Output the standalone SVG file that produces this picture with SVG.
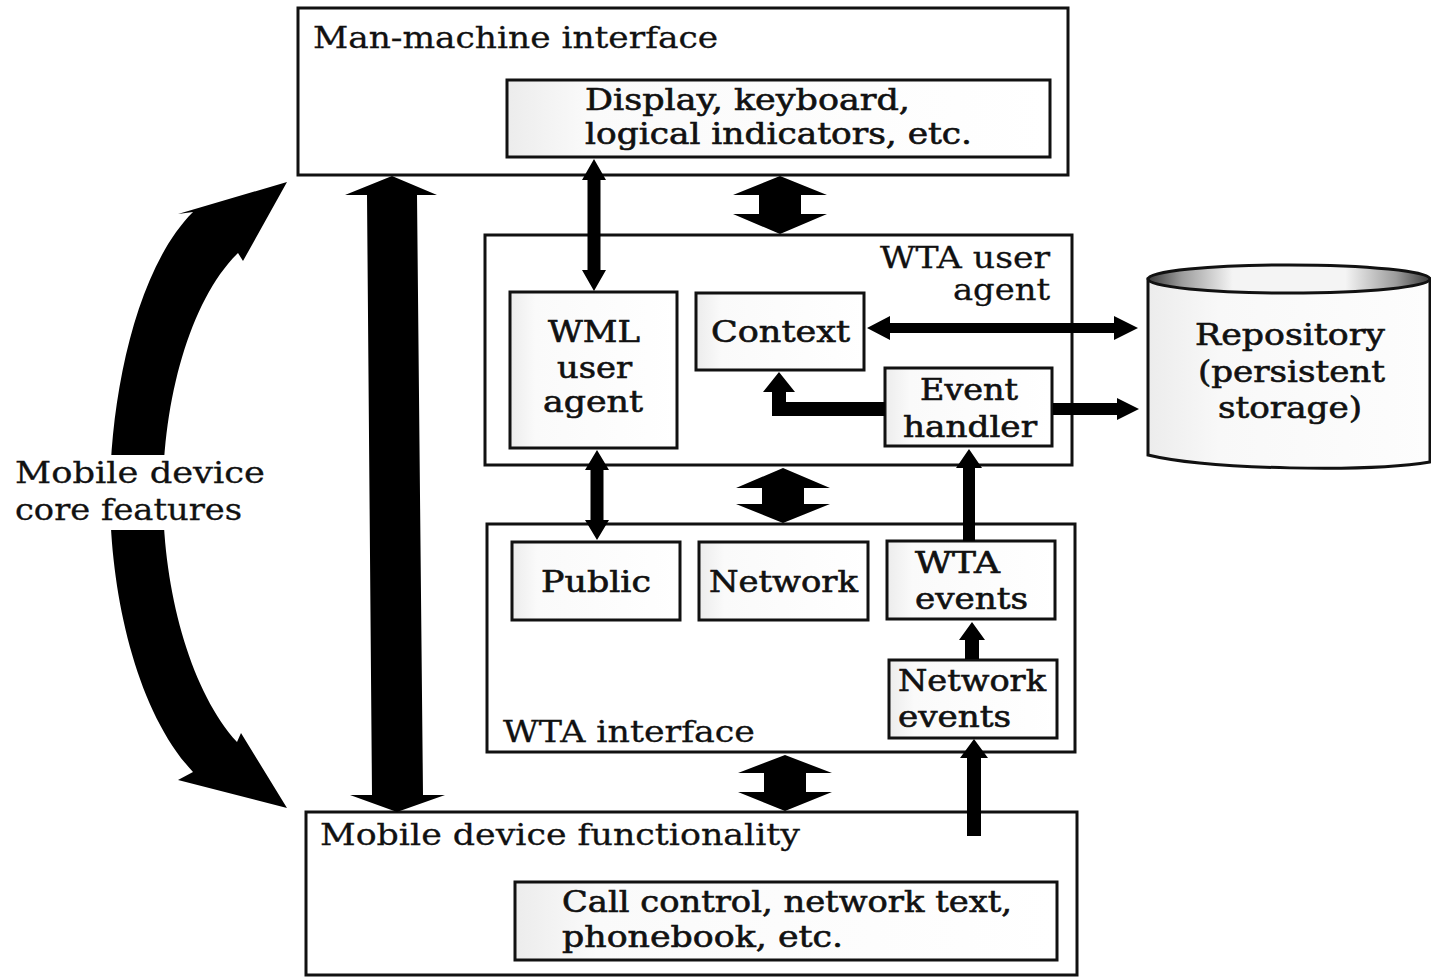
<svg xmlns="http://www.w3.org/2000/svg" width="1431" height="978" viewBox="0 0 1431 978">
<defs>
<style>
.box{fill:#fff;stroke:#111;stroke-width:3}
.inner{fill:url(#speck);stroke:#111;stroke-width:3}
.t{font-family:"DejaVu Serif","Liberation Serif",serif;font-size:29px;fill:#111;stroke:#111;stroke-width:0.3px}
.b{stroke-width:0.6px}
.arr{fill:#000}
</style>
<linearGradient id="speck" x1="0" y1="0" x2="1" y2="0">
<stop offset="0" stop-color="#ececec"/>
<stop offset="0.15" stop-color="#fafafa"/>
<stop offset="1" stop-color="#ffffff"/>
</linearGradient>
<linearGradient id="cyl" x1="0" y1="0" x2="1" y2="0">
<stop offset="0" stop-color="#ececec"/>
<stop offset="0.25" stop-color="#f8f8f8"/>
<stop offset="1" stop-color="#fdfdfd"/>
</linearGradient>
<linearGradient id="top" x1="0" y1="0" x2="1" y2="0">
<stop offset="0" stop-color="#3a3a3a"/>
<stop offset="0.12" stop-color="#9c9c9c"/>
<stop offset="0.3" stop-color="#f4f4f4"/>
<stop offset="0.7" stop-color="#f4f4f4"/>
<stop offset="0.88" stop-color="#9c9c9c"/>
<stop offset="1" stop-color="#3a3a3a"/>
</linearGradient>
</defs>
<rect width="1431" height="978" fill="#fff"/>

<g id="mmi">
<rect class="box" x="298" y="8" width="770" height="167"/>
<text class="t" x="313" y="48" textLength="405" lengthAdjust="spacingAndGlyphs">Man-machine interface</text>
</g>
<g id="display">
<rect class="inner" x="507" y="80" width="543" height="77"/>
<text class="t b" x="585" y="110" textLength="325" lengthAdjust="spacingAndGlyphs">Display, keyboard,</text>
<text class="t b" x="585" y="144" textLength="387" lengthAdjust="spacingAndGlyphs">logical indicators, etc.</text>
</g>
<g id="wta-user-agent">
<rect class="box" x="485" y="235" width="587" height="230"/>
<text class="t" x="880" y="268" textLength="170" lengthAdjust="spacingAndGlyphs">WTA user</text>
<text class="t" x="953" y="300" textLength="97" lengthAdjust="spacingAndGlyphs">agent</text>
</g>
<g id="wml">
<rect class="inner" x="510" y="292" width="167" height="156"/>
<text class="t b" x="548" y="342" textLength="92" lengthAdjust="spacingAndGlyphs">WML</text>
<text class="t b" x="557" y="378" textLength="75" lengthAdjust="spacingAndGlyphs">user</text>
<text class="t b" x="543" y="412" textLength="100" lengthAdjust="spacingAndGlyphs">agent</text>
</g>
<g id="context">
<rect class="inner" x="696" y="293" width="168" height="77"/>
<text class="t b" x="711" y="342" textLength="139" lengthAdjust="spacingAndGlyphs">Context</text>
</g>
<g id="event-handler">
<rect class="inner" x="885" y="368" width="167" height="78"/>
<text class="t b" x="920" y="400" textLength="98" lengthAdjust="spacingAndGlyphs">Event</text>
<text class="t b" x="903" y="437" textLength="134" lengthAdjust="spacingAndGlyphs">handler</text>
</g>
<g id="repository">
<path d="M1148,279 L1148,455 C1210,470 1370,472 1430,462 L1430,279 Z" fill="url(#cyl)" stroke="#111" stroke-width="3"/>
<ellipse cx="1289" cy="279" rx="141" ry="14" fill="url(#top)" stroke="#111" stroke-width="3"/>
<text class="t b" x="1195" y="345" textLength="190" lengthAdjust="spacingAndGlyphs">Repository</text>
<text class="t b" x="1198" y="382" textLength="187" lengthAdjust="spacingAndGlyphs">(persistent</text>
<text class="t b" x="1218" y="418" textLength="144" lengthAdjust="spacingAndGlyphs">storage)</text>
</g>
<g id="wta-interface">
<rect class="box" x="487" y="524" width="588" height="228"/>
<text class="t" x="503" y="742" textLength="252" lengthAdjust="spacingAndGlyphs">WTA interface</text>
</g>
<g id="public">
<rect class="inner" x="512" y="542" width="168" height="78"/>
<text class="t b" x="541" y="592" textLength="110" lengthAdjust="spacingAndGlyphs">Public</text>
</g>
<g id="network">
<rect class="inner" x="699" y="542" width="169" height="78"/>
<text class="t b" x="709" y="592" textLength="149" lengthAdjust="spacingAndGlyphs">Network</text>
</g>
<g id="wta-events">
<rect class="inner" x="887" y="541" width="168" height="78"/>
<text class="t b" x="915" y="573" textLength="85" lengthAdjust="spacingAndGlyphs">WTA</text>
<text class="t b" x="915" y="609" textLength="113" lengthAdjust="spacingAndGlyphs">events</text>
</g>
<g id="network-events">
<rect class="inner" x="889" y="660" width="168" height="78"/>
<text class="t b" x="898" y="691" textLength="148" lengthAdjust="spacingAndGlyphs">Network</text>
<text class="t b" x="898" y="727" textLength="113" lengthAdjust="spacingAndGlyphs">events</text>
</g>
<g id="mdf">
<rect class="box" x="306" y="812" width="771" height="163"/>
<text class="t" x="320" y="845" textLength="480" lengthAdjust="spacingAndGlyphs">Mobile device functionality</text>
</g>
<g id="call-control">
<rect class="inner" x="515" y="882" width="542" height="78"/>
<text class="t b" x="562" y="912" textLength="450" lengthAdjust="spacingAndGlyphs">Call control, network text,</text>
<text class="t b" x="562" y="947" textLength="281" lengthAdjust="spacingAndGlyphs">phonebook, etc.</text>
</g>

<g id="connectors" class="arr">
<polygon points="594,159 606,180 600.5,180 600.5,270 606,270 594,291 582,270 587.5,270 587.5,180 582,180"/>
<polygon points="780,176 827,195 801,195 801,214 827,214 780,234 733,214 759,214 759,195 733,195"/>
<polygon points="392,176 437,195 417,195 423,795 445,795 397,812 350,795 372,795 367,195 345,195"/>
<polygon points="867,328 890,316 890,323 1114,323 1114,316 1138,328 1114,340 1114,333 890,333 890,340"/>
<polygon points="1053,403 1117,403 1117,398 1139,409 1117,420 1117,415 1053,415"/>
<path d="M885,402 L786,402 L786,392 L795,392 L779,372 L763,392 L772,392 L772,416 L885,416 Z"/>
<polygon points="597,450 609,470 603.5,470 603.5,520 609,520 597,540 585,520 590.5,520 590.5,470 585,470"/>
<polygon points="783,468 830,488 804,488 804,504 830,504 783,523 736,504 762,504 762,488 736,488"/>
<polygon points="969,449 982,468 975,468 975,541 963,541 963,468 956,468"/>
<polygon points="972,622 985,640 979,640 979,659 965,659 965,640 959,640"/>
<polygon points="974,739 988,758 981,758 981,836 967,836 967,758 960,758"/>
<polygon points="785,755 832,773 806,773 806,792 832,792 785,811 738,792 764,792 764,773 738,773"/>
<path d="M178,214 L287,182 L243,261 L238,253 C190,300 163,400 163,495 C163,590 190,690 237,742 L241,733 L287,808 L178,780 L193,772 C135,710 110,590 110,495 C110,400 135,270 193,212 Z"/>
</g>

<g id="core-features-label">
<rect x="100" y="455" width="80" height="75" fill="#fff"/>
<text class="t" x="15" y="483" textLength="250" lengthAdjust="spacingAndGlyphs">Mobile device</text>
<text class="t" x="15" y="520" textLength="227" lengthAdjust="spacingAndGlyphs">core features</text>
</g>
</svg>
